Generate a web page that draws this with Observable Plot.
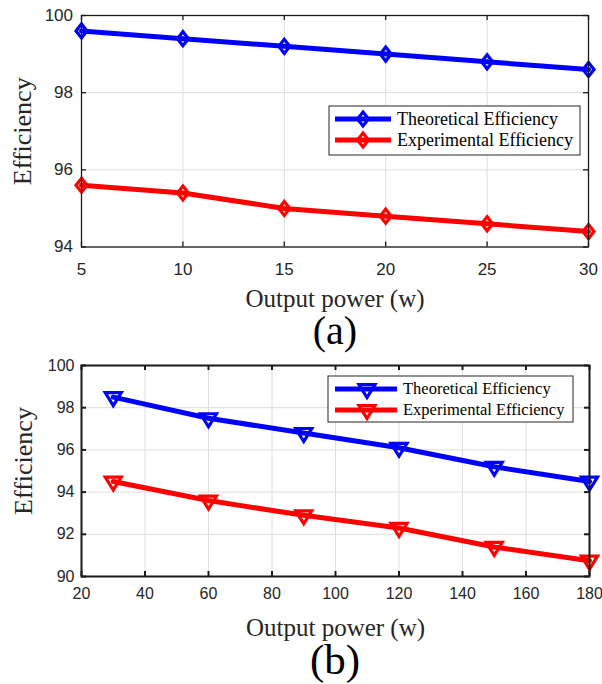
<!DOCTYPE html>
<html><head><meta charset="utf-8">
<script src="https://cdn.jsdelivr.net/npm/d3@7"></script>
<script src="https://cdn.jsdelivr.net/npm/@observablehq/plot@0.6"></script>
<style>
body{margin:0;background:#fff;}
#root{position:relative;width:602px;height:684px;overflow:hidden;background:#fff;}
.cap{position:absolute;left:0;width:602px;text-align:center;font-family:"Liberation Serif","Times New Roman",serif;line-height:1;color:#000;}
</style></head><body><div id="root"></div>
<script>
// ---- data ----
const seriesNames = ["Theoretical Efficiency", "Experimental Efficiency"];
const xLabel = "Output power (w)";
const yLabel = "Efficiency";
// chart (a)
const powerA = [5, 10, 15, 20, 25, 30];
const theoA = [99.6, 99.4, 99.2, 99.0, 98.8, 98.6];
const expA = [95.6, 95.4, 95.0, 94.8, 94.6, 94.4];
const xTicksA = [5, 10, 15, 20, 25, 30];
const yTicksA = [94, 96, 98, 100];
// chart (b)
const powerB = [30, 60, 90, 120, 150, 180];
const theoB = [98.5, 97.5, 96.8, 96.1, 95.2, 94.5];
const expB = [94.5, 93.6, 92.9, 92.3, 91.4, 90.75];
const xTicksB = [20, 40, 60, 80, 100, 120, 140, 160, 180];
const yTicksB = [90, 92, 94, 96, 98, 100];

// ---- styles ----
const colors = ["#0000ff", "#ff0000"];
const diamondTall = {draw(c){ c.moveTo(0,-7); c.lineTo(5.5,0); c.lineTo(0,7); c.lineTo(-5.5,0); c.closePath(); }};
const triDown = {draw(c){ c.moveTo(-8,-4.5); c.lineTo(8,-4.5); c.lineTo(0,8.5); c.closePath(); }};
const W = 602;
const root = document.getElementById("root");

function chart(o) {
  const plotH = o.height - o.marginTop - o.marginBottom;
  const plotW = W - o.marginLeft - o.marginRight;
  const series = [o.theo, o.exp].map((vals, s) => o.xs.map((x, i) => ({x, y: vals[i], s})));
  const axisColor = "#1a1a1a";
  const marks = [
    Plot.gridX(o.xTicks, {stroke: "#dedede", strokeOpacity: 1, strokeWidth: 1}),
    Plot.gridY(o.yTicks, {stroke: "#dedede", strokeOpacity: 1, strokeWidth: 1}),
    Plot.tickX(o.xTicks, {x: d => d, insetTop: plotH - 5, stroke: axisColor, strokeWidth: o.frameWidth}),
    Plot.tickX(o.xTicks, {x: d => d, insetBottom: plotH - 5, stroke: axisColor, strokeWidth: o.frameWidth}),
    Plot.tickY(o.yTicks, {y: d => d, insetRight: plotW - 5, stroke: axisColor, strokeWidth: o.frameWidth}),
    Plot.tickY(o.yTicks, {y: d => d, insetLeft: plotW - 5, stroke: axisColor, strokeWidth: o.frameWidth}),
    Plot.axisX({ticks: o.xTicks, tickSize: 0, tickPadding: o.xPad, label: null, fontSize: o.fontSize, tickFormat: d => String(d)}),
    Plot.axisY({ticks: o.yTicks, tickSize: 0, tickPadding: o.yPad, label: null, fontSize: o.fontSize, tickFormat: d => String(d)}),
  ];
  series.forEach((d, s) => {
    marks.push(Plot.line(d, {x: "x", y: "y", stroke: colors[s], strokeWidth: 5}));
    marks.push(Plot.dot(d, {x: "x", y: "y", stroke: colors[s], fill: "none", strokeWidth: 3.2, symbol: o.symbol, r: 5}));
  });
  marks.push(Plot.frame({stroke: axisColor, strokeWidth: o.frameWidth}));
  marks.push(Plot.text([xLabel], {text: d => d, frameAnchor: "bottom", dy: o.xLabelDy, lineAnchor: "middle", textAnchor: "middle",
    fontSize: 25, fontFamily: "Liberation Serif, Times New Roman, serif", fill: "#262626"}));
  marks.push(Plot.text([yLabel], {text: d => d, frameAnchor: "left", dx: o.yLabelDx, dy: o.yLabelDy, rotate: -90,
    lineAnchor: "middle", textAnchor: "middle",
    fontSize: 26, fontFamily: "Liberation Serif, Times New Roman, serif", fill: "#262626"}));
  const svg = Plot.plot({
    width: W, height: o.height,
    marginTop: o.marginTop, marginBottom: o.marginBottom, marginLeft: o.marginLeft, marginRight: o.marginRight,
    x: {domain: o.xDomain},
    y: {domain: o.yDomain},
    style: {fontFamily: "Liberation Sans, Arial, sans-serif", fontSize: o.fontSize + "px", color: "#262626", background: "transparent", overflow: "visible"},
    marks
  });
  svg.style.position = "absolute";
  svg.style.left = "0px";
  svg.style.top = o.top + "px";
  root.appendChild(svg);
}

function legend(o) {
  const svg = d3.create("svg").attr("width", o.width + 2).attr("height", o.height + 2)
    .style("position", "absolute").style("left", (o.left - 1) + "px").style("top", (o.top - 1) + "px");
  svg.append("rect").attr("x", 1).attr("y", 1).attr("width", o.width).attr("height", o.height)
    .attr("fill", "#fff").attr("stroke", "#262626").attr("stroke-width", 1);
  seriesNames.forEach((name, i) => {
    const cy = 1 + o.rowY[i];
    svg.append("line").attr("x1", 1 + o.lineX1).attr("x2", 1 + o.lineX2).attr("y1", cy).attr("y2", cy)
      .attr("stroke", colors[i]).attr("stroke-width", 5);
    const p = d3.path(); o.symbol.draw(p);
    svg.append("path").attr("d", p.toString()).attr("transform", `translate(${1 + o.markerX},${cy})`)
      .attr("fill", "none").attr("stroke", colors[i]).attr("stroke-width", 3.2);
    svg.append("text").attr("x", 1 + o.textX).attr("y", cy).attr("dy", "0.32em")
      .attr("font-family", "Liberation Serif, Times New Roman, serif").attr("font-size", o.fontSize)
      .attr("fill", "#000").text(name);
  });
  root.appendChild(svg.node());
}

function caption(text, top, size) {
  const d = document.createElement("div");
  d.className = "cap";
  d.style.top = top + "px";
  d.style.fontSize = size + "px";
  d.style.paddingLeft = "68px";
  d.style.boxSizing = "border-box";
  d.textContent = text;
  root.appendChild(d);
}

chart({xs: powerA, theo: theoA, exp: expA, xDomain: [5, 30], yDomain: [94, 100], xTicks: xTicksA, yTicks: yTicksA,
  symbol: diamondTall, top: 0, height: 315, marginTop: 15, marginBottom: 68.5, marginLeft: 81, marginRight: 14,
  fontSize: 17, xPad: 15.5, yPad: 8.5, frameWidth: 1.3, xLabelDy: 51.5, yLabelDx: -59, yLabelDy: 0});
legend({left: 329, top: 106, width: 251, height: 49, rowY: [13, 34], lineX1: 6, lineX2: 62, markerX: 34, textX: 68,
  fontSize: 18, symbol: diamondTall});
caption("(a)", 310.5, 40);

chart({xs: powerB, theo: theoB, exp: expB, xDomain: [20, 180], yDomain: [90, 100], xTicks: xTicksB, yTicks: yTicksB,
  symbol: triDown, top: 350, height: 300, marginTop: 15, marginBottom: 74, marginLeft: 81, marginRight: 13,
  fontSize: 16, xPad: 11, yPad: 7, frameWidth: 2, xLabelDy: 51, yLabelDx: -57.5, yLabelDy: -10});
legend({left: 328, top: 376, width: 245, height: 46, rowY: [13, 34], lineX1: 7, lineX2: 69, markerX: 39, textX: 75,
  fontSize: 16.5, symbol: triDown});
caption("(b)", 638, 43);
</script></body></html>
